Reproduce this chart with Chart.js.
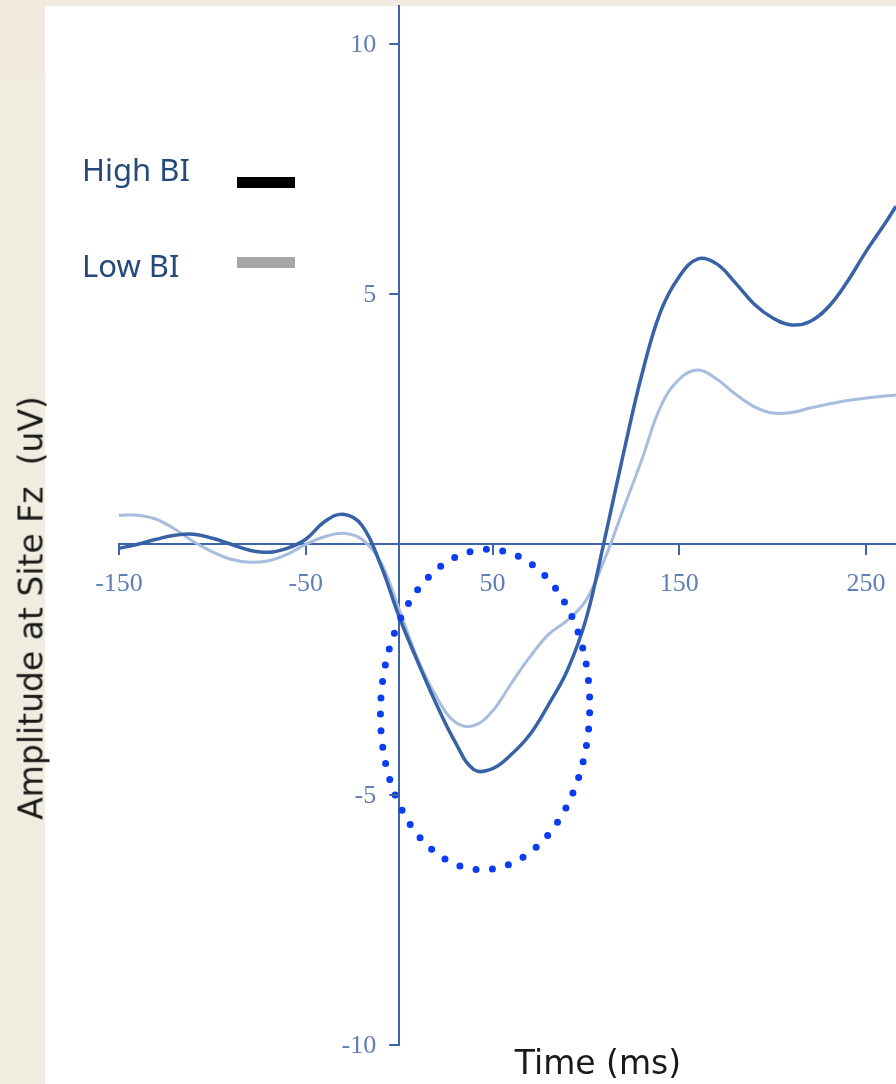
<!DOCTYPE html>
<html>
<head>
<meta charset="utf-8">
<title>ERP at Fz</title>
<script src="https://cdn.jsdelivr.net/npm/chart.js@4.4.1/dist/chart.umd.min.js"></script>
<style>
  html, body { margin: 0; padding: 0; }
  body {
    width: 896px; height: 1084px; position: relative; overflow: hidden;
    background: linear-gradient(#f3eadf 0, #f3eadf 76px, #efeddf 80px, #efeddf 100%);
  }
  .panel { position: absolute; left: 45px; top: 6px; right: 0; bottom: 0; background: #fff; }
  #myChart { position: absolute; left: 0; top: 0; }
  .ytitle {
    position: absolute; left: 31px; top: 608px; white-space: nowrap;
    transform: translate(-50%, -50%) rotate(-90deg);
    font: 33px "DejaVu Sans", sans-serif; color: #1a1a1a;
  }
  .xtitle {
    position: absolute; left: 598px; top: 1062px; white-space: nowrap;
    transform: translate(-50%, -50%);
    font: 33px "DejaVu Sans", sans-serif; color: #1a1a1a;
  }
  .key { position: absolute; left: 82px; font: 31px "Noto Sans", sans-serif; color: #24497a; white-space: nowrap; }
  .key span { position: absolute; left: 155px; width: 58px; height: 11px; }
</style>
</head>
<body>
<div class="panel"></div>
<canvas id="myChart" width="896" height="1084"></canvas>
<div class="ytitle">Amplitude at Site Fz&nbsp; (uV)</div>
<div class="xtitle">Time (ms)</div>
<div class="key" style="top:148px">High BI<span style="top:29px;background:#000"></span></div>
<div class="key" style="top:244px">Low BI<span style="top:13px;background:#a6a6a6"></span></div>
<script>
/* Data */

const times = [-150, -140, -130, -120, -110, -100, -90, -80, -70, -60, -50, -40, -30, -20, -10,
    0, 10, 20, 30, 40, 50, 60, 70, 80, 90, 100, 110, 120, 130, 140, 150, 160, 170, 180,
    190, 200, 210, 220, 230, 240, 250, 260, 266]
const highBI = [-0.08, 0.0, 0.1, 0.18, 0.2, 0.12, 0.0, -0.12, -0.16, -0.08, 0.1, 0.45, 0.6, 0.38, -0.4,
    -1.45, -2.35, -3.2, -3.95, -4.5, -4.48, -4.2, -3.8, -3.2, -2.52, -1.5, 0.1, 1.8, 3.4, 4.65, 5.35, 5.7, 5.6, 5.22,
    4.8, 4.52, 4.38, 4.45, 4.75, 5.25, 5.85, 6.4, 6.75]
const lowBI = [0.58, 0.58, 0.5, 0.3, 0.05, -0.15, -0.3, -0.36, -0.33, -0.2, 0.0, 0.15, 0.22, 0.1, -0.35,
    -1.3, -2.3, -3.05, -3.55, -3.62, -3.33, -2.78, -2.25, -1.8, -1.52, -1.12, -0.3, 0.7, 1.7, 2.75, 3.3, 3.48, 3.3, 3.0,
    2.75, 2.62, 2.63, 2.72, 2.8, 2.87, 2.92, 2.96, 2.98]
const xTicks = [-150, -50, 50, 150, 250]
const yTicks = [-10, -5, 5, 10]

// dotted highlight round the dip: centre and radii in data units
const ringCentre = [46, -3.3]
const ringRadius = [56, 3.2]

/* Chart */

const axisColor = '#3d66a8'
const tickColor = '#5f7fb6'
const tickFont = {family: '"Liberation Serif", serif', size: 26}

const ring = {
    id: 'ring',
    afterDatasetsDraw(chart) {
        const {ctx, scales: {x, y}} = chart
        const cx = x.getPixelForValue(ringCentre[0])
        const cy = y.getPixelForValue(ringCentre[1])
        const rx = x.getPixelForValue(ringCentre[0] + ringRadius[0]) - cx
        const ry = cy - y.getPixelForValue(ringCentre[1] + ringRadius[1])
        ctx.save()
        ctx.strokeStyle = '#0a3cf2'
        ctx.lineWidth = 7
        ctx.lineCap = 'round'
        ctx.setLineDash([0, 16.5])
        ctx.beginPath()
        ctx.ellipse(cx, cy, rx, ry, 0.03, 0, Math.PI * 2)
        ctx.stroke()
        ctx.restore()
    }
}

// y axis sits at x = 0, so its ticks and labels are drawn here on its left side
const yTickMarks = {
    id: 'yTickMarks',
    afterDraw(chart) {
        const {ctx, scales: {x, y}} = chart
        const ax = x.getPixelForValue(0)
        ctx.save()
        ctx.strokeStyle = axisColor
        ctx.lineWidth = 2
        ctx.fillStyle = tickColor
        ctx.font = `${tickFont.size}px ${tickFont.family}`
        ctx.textAlign = 'right'
        ctx.textBaseline = 'middle'
        yTicks.forEach((v) => {
            const py = Math.round(y.getPixelForValue(v))
            ctx.beginPath()
            ctx.moveTo(ax - 10, py)
            ctx.lineTo(ax, py)
            ctx.stroke()
            ctx.fillText(String(v), ax - 23, py + 1)
        })
        ctx.restore()
    }
}

const noPad = (s) => { s.paddingLeft = 0; s.paddingRight = 0; s.paddingTop = 0; s.paddingBottom = 0 }

const ctx = document.getElementById('myChart')
new Chart(ctx, {
    type: 'line',
    data: {
        datasets: [{
            label: 'High BI',
            data: times.map((t, i) => ({x: t, y: highBI[i]})),
            borderColor: '#3862a6',
            borderWidth: 3.5,
            pointRadius: 0,
            tension: 0.4,
        }, {
            label: 'Low BI',
            data: times.map((t, i) => ({x: t, y: lowBI[i]})),
            borderColor: '#a8bcdd',
            borderWidth: 3,
            pointRadius: 0,
            tension: 0.4,
        }]
    },
    options: {
        responsive: false,
        animation: false,
        layout: {padding: {left: 119, right: 0, top: 6, bottom: 39}},
        scales: {
            x: {
                type: 'linear',
                position: {y: 0},
                min: -150,
                max: 266,
                afterBuildTicks: (s) => { s.ticks = xTicks.map((v) => ({value: v})) },
                afterFit: noPad,
                grid: {drawOnChartArea: false, drawTicks: true, tickLength: 10, color: axisColor, lineWidth: 2},
                border: {color: axisColor, width: 2},
                ticks: {color: tickColor, font: tickFont, padding: 14, maxRotation: 0, autoSkip: false}
            },
            y: {
                type: 'linear',
                position: {x: 0},
                min: -10,
                max: 10.75,
                afterBuildTicks: (s) => { s.ticks = yTicks.map((v) => ({value: v})) },
                afterFit: noPad,
                grid: {display: false},
                border: {color: axisColor, width: 2},
                ticks: {display: false}
            }
        },
        plugins: {
            legend: {display: false},
            tooltip: {enabled: false}
        }
    },
    plugins: [ring, yTickMarks]
});
</script>
</body>
</html>
